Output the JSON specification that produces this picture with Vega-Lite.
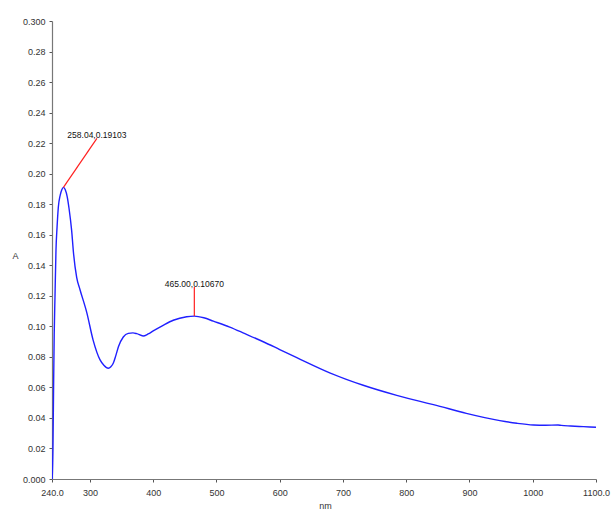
{
  "$schema": "https://vega.github.io/schema/vega-lite/v6.json",
  "width": 544,
  "height": 458,
  "autosize": {"type": "none"},
  "padding": {"left": 52, "top": 21, "right": 16, "bottom": 31},
  "background": "white",
  "config": {
    "view": {"stroke": null},
    "axis": {
      "grid": false,
      "labelFont": "Liberation Sans",
      "labelFontSize": 9,
      "labelColor": "#333333",
      "labelOverlap": false,
      "labelFlush": false,
      "titleFont": "Liberation Sans",
      "titleFontSize": 9,
      "titleFontWeight": "normal",
      "titleColor": "#333333",
      "domainColor": "#777777",
      "domainWidth": 1.2,
      "tickColor": "#555555",
      "tickSize": 3
    }
  },
  "datasets": {
    "spectrum": [
      {"nm": 240.3, "A": 0.0},
      {"nm": 241.5, "A": 0.02},
      {"nm": 242.5, "A": 0.06},
      {"nm": 243.5, "A": 0.095},
      {"nm": 244.7, "A": 0.119},
      {"nm": 246.3, "A": 0.15},
      {"nm": 248, "A": 0.165},
      {"nm": 250, "A": 0.178},
      {"nm": 253, "A": 0.186},
      {"nm": 255.5, "A": 0.1895},
      {"nm": 258.04, "A": 0.19103},
      {"nm": 261, "A": 0.1895},
      {"nm": 264, "A": 0.185},
      {"nm": 267, "A": 0.177},
      {"nm": 271, "A": 0.163},
      {"nm": 274, "A": 0.148},
      {"nm": 279, "A": 0.132},
      {"nm": 284.3, "A": 0.124},
      {"nm": 295, "A": 0.109},
      {"nm": 305, "A": 0.091},
      {"nm": 316, "A": 0.078},
      {"nm": 322, "A": 0.0745},
      {"nm": 329, "A": 0.0725},
      {"nm": 333, "A": 0.0735},
      {"nm": 337, "A": 0.076},
      {"nm": 341, "A": 0.081},
      {"nm": 345, "A": 0.0866},
      {"nm": 352.7, "A": 0.093},
      {"nm": 360.6, "A": 0.0954},
      {"nm": 368, "A": 0.0957},
      {"nm": 374, "A": 0.0952},
      {"nm": 384, "A": 0.0937},
      {"nm": 392, "A": 0.095},
      {"nm": 400, "A": 0.097},
      {"nm": 415, "A": 0.1005},
      {"nm": 431.7, "A": 0.104},
      {"nm": 452.9, "A": 0.1063},
      {"nm": 465, "A": 0.1067},
      {"nm": 480, "A": 0.1056},
      {"nm": 495, "A": 0.1034},
      {"nm": 521, "A": 0.0995},
      {"nm": 545, "A": 0.0952},
      {"nm": 574, "A": 0.0899},
      {"nm": 600, "A": 0.0848},
      {"nm": 627, "A": 0.0795},
      {"nm": 680, "A": 0.0694},
      {"nm": 732, "A": 0.0614},
      {"nm": 785, "A": 0.0548},
      {"nm": 822, "A": 0.0508},
      {"nm": 843, "A": 0.0487},
      {"nm": 895, "A": 0.043},
      {"nm": 948, "A": 0.0382},
      {"nm": 975, "A": 0.0365},
      {"nm": 1001, "A": 0.0354},
      {"nm": 1020, "A": 0.0352},
      {"nm": 1040, "A": 0.0354},
      {"nm": 1045, "A": 0.0351},
      {"nm": 1060, "A": 0.0347},
      {"nm": 1080, "A": 0.0343},
      {"nm": 1100, "A": 0.0339}
    ],
    "peaks": [
      {"nm": 258.04, "A": 0.19103, "nm2": 311, "A2": 0.2231, "label": "258.04,0.19103"},
      {"nm": 465, "A": 0.1067, "nm2": 465, "A2": 0.1257, "label": "465.00,0.10670"}
    ]
  },
  "encoding": {
    "x": {
      "field": "nm", "type": "quantitative",
      "scale": {"domain": [240, 1100], "nice": false, "zero": false},
      "axis": {
        "values": [240, 300, 400, 500, 600, 700, 800, 900, 1000, 1100],
        "labelExpr": "datum.value == 240 ? '240.0' : datum.value == 1100 ? '1100.0' : format(datum.value, 'd')",
        "labelPadding": 6,
        "title": "nm",
        "titleX": 273,
        "titleY": 26,
        "titleAlign": "center",
        "titleBaseline": "middle"
      }
    },
    "y": {
      "field": "A", "type": "quantitative",
      "scale": {"domain": [0, 0.3], "nice": false},
      "axis": {
        "values": [0, 0.02, 0.04, 0.06, 0.08, 0.1, 0.12, 0.14, 0.16, 0.18, 0.2, 0.22, 0.24, 0.26, 0.28, 0.3],
        "labelExpr": "datum.value == 0 ? '0.000' : datum.value > 0.299 ? '0.300' : format(datum.value, '.2f')",
        "labelPadding": 4,
        "title": "A",
        "titleAngle": 0,
        "titleX": -37,
        "titleY": 234,
        "titleAlign": "center",
        "titleBaseline": "middle"
      }
    }
  },
  "layer": [
    {
      "data": {"name": "spectrum"},
      "mark": {"type": "line", "color": "#2020ff", "strokeWidth": 1.4, "interpolate": "monotone", "clip": true}
    },
    {
      "data": {"name": "peaks"},
      "mark": {"type": "rule", "color": "#ff2020", "strokeWidth": 1.2},
      "encoding": {
        "x2": {"field": "nm2"},
        "y2": {"field": "A2"}
      }
    },
    {
      "data": {"name": "peaks"},
      "mark": {"type": "text", "font": "Liberation Sans", "fontSize": 8.5, "color": "#111111", "align": "center", "baseline": "bottom", "dy": 2},
      "encoding": {
        "x": {"field": "nm2", "type": "quantitative"},
        "y": {"field": "A2", "type": "quantitative"},
        "text": {"field": "label"}
      }
    }
  ]
}
